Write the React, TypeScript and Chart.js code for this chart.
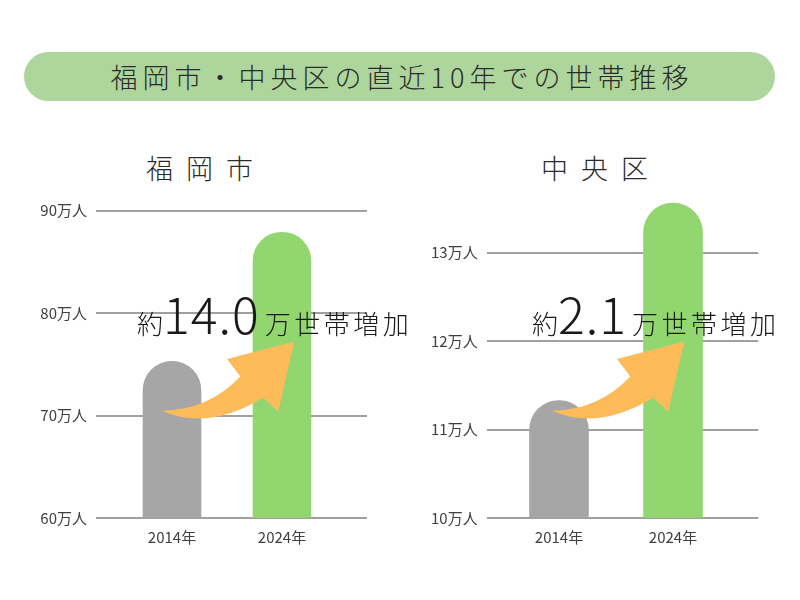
import React, { useEffect, useRef } from 'react';
import { Chart, registerables } from 'chart.js';

Chart.register(...registerables);

// ---- data ----
const categories = ['2014年', '2024年'];
const cityValues = [75.3, 87.9]; // 福岡市 (万世帯)
const wardValues = [11.33, 13.56]; // 中央区 (万世帯)
const cityTicks = [60, 70, 80, 90];
const wardTicks = [10, 11, 12, 13];
const barColors = ['#a6a6a6', '#92d66f'];
const titleText = '福岡市・中央区の直近10年での世帯推移';
const cityName = '福岡市';
const wardName = '中央区';
const cityIncrease = '14.0';
const wardIncrease = '2.1';
const tickUnit = '万人';

const FONT = "'Noto Sans CJK JP', 'Noto Sans', sans-serif";

const arrowPlugin = {
  id: 'growthArrow',
  afterDatasetsDraw(chart: any, _args: any, opts: any) {
    const { ctx, chartArea, scales } = chart;
    const x0 = scales.x.getPixelForValue(1) + opts.dx;
    const y0 = chartArea.bottom - 107.5;
    ctx.save();
    ctx.beginPath();
    ctx.moveTo(x0, y0);
    ctx.quadraticCurveTo(x0 + 47, y0 - 1, x0 + 78.3, y0 - 34.3);
    ctx.lineTo(x0 + 65, y0 - 51.7);
    ctx.lineTo(x0 + 132.3, y0 - 69.3);
    ctx.lineTo(x0 + 116.3, y0 + 0.7);
    ctx.lineTo(x0 + 101.3, y0 - 13);
    ctx.quadraticCurveTo(x0 + 45.5, y0 + 20.5, x0, y0);
    ctx.closePath();
    ctx.fillStyle = opts.color;
    ctx.fill();
    ctx.restore();
  },
};

type PanelProps = {
  values: number[];
  yMin: number;
  yMax: number;
  yTicks: number[];
  xMin: number;
  xMax: number;
  padTop: number;
  padRight: number;
  axisWidth: number;
  barThickness: number;
  arrowDx: number;
  left: number;
};

function BarPanel(p: PanelProps) {
  const ref = useRef<HTMLCanvasElement>(null);
  useEffect(() => {
    const tickFont = { family: FONT, size: 15 };
    const chart = new Chart(ref.current as HTMLCanvasElement, {
      type: 'bar',
      data: {
        datasets: [
          {
            data: p.values.map((v, i) => ({ x: i + 1, y: v })),
            backgroundColor: barColors,
            barThickness: p.barThickness,
            borderRadius: {
              topLeft: p.barThickness / 2,
              topRight: p.barThickness / 2,
              bottomLeft: 0,
              bottomRight: 0,
            },
            borderSkipped: 'start',
            base: p.yMin,
          } as any,
        ],
      },
      options: {
        responsive: false,
        animation: false,
        layout: { padding: { top: p.padTop, right: p.padRight, bottom: 3.7, left: 0 } },
        plugins: {
          legend: { display: false },
          tooltip: { enabled: false },
          growthArrow: { dx: p.arrowDx, color: '#fdbb5a' },
        } as any,
        scales: {
          x: {
            type: 'linear',
            offset: false,
            min: p.xMin,
            max: p.xMax,
            grid: { display: false, drawTicks: false, offset: false },
            border: { display: false },
            afterBuildTicks: (s: any) => {
              s.ticks = categories.map((_, i) => ({ value: i + 1 }));
            },
            ticks: {
              autoSkip: false,
              maxRotation: 0,
              padding: 10,
              color: '#404040',
              font: tickFont,
              callback: (v: any) => categories[Math.round(Number(v)) - 1] ?? '',
            },
          },
          y: {
            min: p.yMin,
            max: p.yMax,
            afterBuildTicks: (s: any) => {
              s.ticks = p.yTicks.map((v) => ({ value: v }));
            },
            afterFit: (s: any) => {
              s.width = p.axisWidth;
            },
            grid: { color: '#a0a0a0', lineWidth: 2, drawTicks: false },
            border: { display: false },
            ticks: {
              padding: 9,
              color: '#404040',
              font: tickFont,
              callback: (v: any) => `${v}${tickUnit}`,
            },
          },
        },
      } as any,
      plugins: [arrowPlugin as any],
    });
    return () => chart.destroy();
  }, []);
  return (
    <canvas
      ref={ref}
      width={400}
      height={380}
      style={{ position: 'absolute', left: p.left, top: 180, width: 400, height: 380, display: 'block' }}
    />
  );
}

function Annotation({ left, value }: { left: number; value: string }) {
  return (
    <div
      style={{
        position: 'absolute',
        left,
        top: 286.7,
        whiteSpace: 'nowrap',
        fontFamily: FONT,
        fontWeight: 300,
        color: '#1a1a1a',
        fontSize: 50,
        lineHeight: '50px',
      }}
    >
      <span style={{ fontSize: 26, lineHeight: 1 }}>約</span>
      <span style={{ letterSpacing: 1 }}>{value}</span>
      <span style={{ fontSize: 26, letterSpacing: 3.5, lineHeight: 1, marginLeft: 5 }}>万世帯増加</span>
    </div>
  );
}

export default function App() {
  return (
    <div
      style={{
        position: 'absolute',
        left: 0,
        top: 0,
        width: 800,
        height: 600,
        background: '#ffffff',
        overflow: 'hidden',
        fontFamily: FONT,
      }}
    >
      <div
        style={{
          position: 'absolute',
          left: 24,
          top: 52,
          width: 751,
          height: 49,
          borderRadius: 25,
          background: '#aed69c',
          display: 'flex',
          alignItems: 'center',
          justifyContent: 'center',
          color: '#2b2b2b',
          fontSize: 27,
          lineHeight: '27px',
          letterSpacing: 5,
          fontWeight: 300,
          paddingLeft: 5,
          boxSizing: 'border-box',
        }}
      >
        {titleText}
      </div>
      <div
        style={{
          position: 'absolute',
          left: 146,
          top: 153.5,
          fontSize: 27,
          lineHeight: '27px',
          letterSpacing: 13,
          fontWeight: 300,
          color: '#2b2b2b',
          whiteSpace: 'nowrap',
        }}
      >
        {cityName}
      </div>
      <div
        style={{
          position: 'absolute',
          left: 541,
          top: 153.5,
          fontSize: 27,
          lineHeight: '27px',
          letterSpacing: 13,
          fontWeight: 300,
          color: '#2b2b2b',
          whiteSpace: 'nowrap',
        }}
      >
        {wardName}
      </div>
      <BarPanel
        values={cityValues}
        yMin={60}
        yMax={90}
        yTicks={cityTicks}
        xMin={0.309}
        xMax={2.773}
        padTop={30.7}
        padRight={33}
        axisWidth={96}
        barThickness={58}
        arrowDx={-10}
        left={0}
      />
      <BarPanel
        values={wardValues}
        yMin={10}
        yMax={13.6}
        yTicks={wardTicks}
        xMin={0.366}
        xMax={2.748}
        padTop={19.6}
        padRight={41.7}
        axisWidth={86.7}
        barThickness={59}
        arrowDx={-7}
        left={400}
      />
      <Annotation left={137} value={cityIncrease} />
      <Annotation left={532} value={wardIncrease} />
    </div>
  );
}
